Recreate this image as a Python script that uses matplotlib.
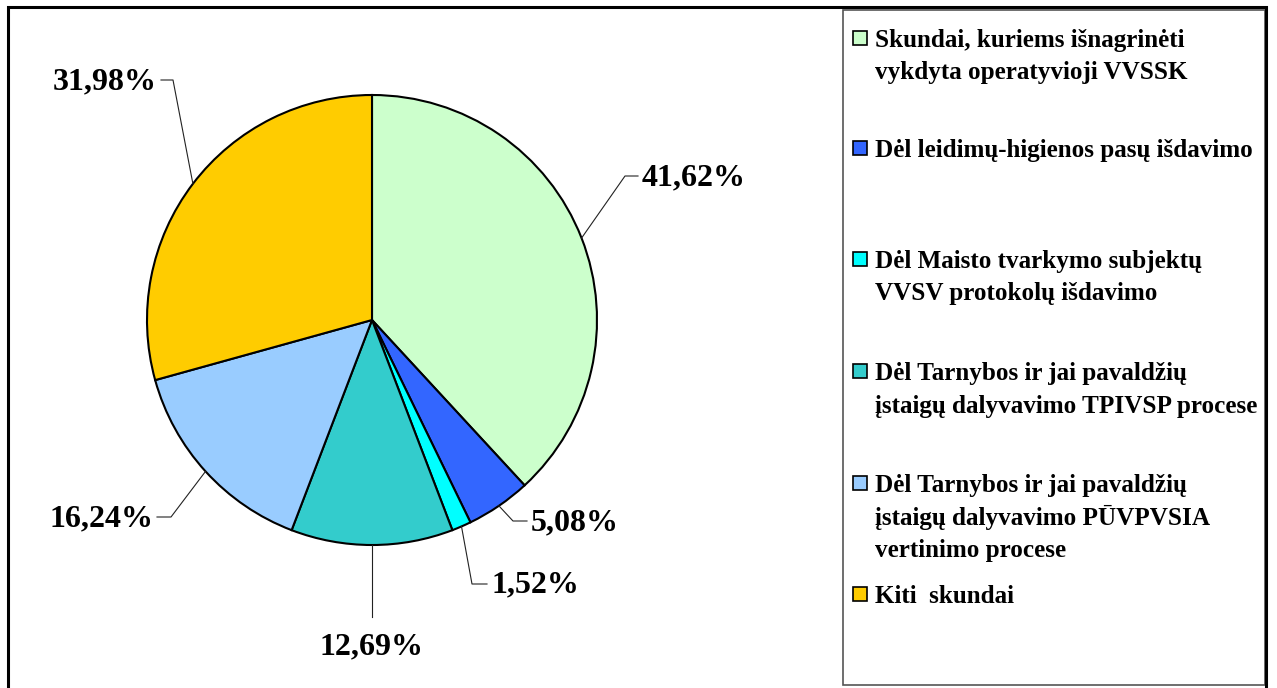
import numpy as np
import matplotlib
matplotlib.use("Agg")
import matplotlib.pyplot as plt
from matplotlib.patches import Rectangle
from matplotlib.lines import Line2D

# ---- data ----
values = [41.62, 5.08, 1.52, 12.69, 16.24, 31.98]
value_labels = ["41,62%", "5,08%", "1,52%", "12,69%", "16,24%", "31,98%"]
categories = [
    "Skundai, kuriems išnagrinėti\nvykdyta operatyvioji VVSSK",
    "Dėl leidimų-higienos pasų išdavimo",
    "Dėl Maisto tvarkymo subjektų\nVVSV protokolų išdavimo",
    "Dėl Tarnybos ir jai pavaldžių\nįstaigų dalyvavimo TPIVSP procese",
    "Dėl Tarnybos ir jai pavaldžių\nįstaigų dalyvavimo PŪVPVSIA\nvertinimo procese",
    "Kiti  skundai",
]
colors = ["#CCFFCC", "#3366FF", "#00FFFF", "#33CCCC", "#99CCFF", "#FFCC00"]

FONT = "Liberation Serif"
W, H = 1277, 688

fig = plt.figure(figsize=(W / 100, H / 100), dpi=100)
fig.patch.set_facecolor("white")

def fx(x):
    return x / W

def fy(y):
    return 1 - y / H

# pie axes: center (372, 320), radius 225 px
cx, cy, R = 372, 320, 225
ax = fig.add_axes([fx(cx - R), fy(cy + R), 2 * R / W, 2 * R / H])
wedges, _ = ax.pie(values, colors=colors, startangle=90, counterclock=False,
                   wedgeprops=dict(edgecolor="black", linewidth=1.5))
ax.set_xlim(-1, 1)
ax.set_ylim(-1, 1)
ax.set_aspect("auto")
ax.axis("off")

# label layout: (elbow point, line end point, text x, text y, ha)
layout = [
    ((625, 176), (638, 176), 642, 178, "left"),
    ((513, 521), (527, 521), 531, 523, "left"),
    ((472, 584), (487, 584), 491, 585, "left"),
    ((372, 617), (372, 617), 372, 647, "center"),
    ((171, 517), (157, 517), 153, 519, "right"),
    ((173, 80), (161, 80), 157, 82, "right"),
]

fig.canvas.draw()
inv = fig.transFigure.inverted()
for w, lab, (elb, end, tx, ty, ha) in zip(wedges, value_labels, layout):
    mid = np.deg2rad((w.theta1 + w.theta2) / 2)
    ax_pt = ax.transData.transform((np.cos(mid), np.sin(mid)))
    a = inv.transform(ax_pt)
    xs = [a[0], fx(elb[0]), fx(end[0])]
    ys = [a[1], fy(elb[1]), fy(end[1])]
    fig.add_artist(Line2D(xs, ys, transform=fig.transFigure, color="#222222", lw=0.8))
    fig.text(fx(tx), fy(ty), lab, ha=ha, va="center", fontsize=23,
             fontweight="bold", family=FONT)

# legend box
fig.add_artist(Rectangle((fx(843), fy(685)), (1265 - 843) / W, (685 - 10) / H,
                         transform=fig.transFigure, facecolor="none",
                         edgecolor="#555555", lw=1.2))

baselines = [47, 157, 268, 380, 492, 603]
line_step = 32.5
for cat, col, b in zip(categories, colors, baselines):
    sq = 14
    fig.add_artist(Rectangle((fx(853), fy(b - 9 + sq / 2)), sq / W, sq / H,
                             transform=fig.transFigure, facecolor=col,
                             edgecolor="black", lw=1.2))
    for i, line in enumerate(cat.split("\n")):
        fig.text(fx(875), fy(b + i * line_step), line, ha="left", va="baseline",
                 fontsize=18.1, fontweight="bold", family=FONT)

# outer border
fig.add_artist(Rectangle((fx(8), fy(692)), (1266 - 8) / W, (692 - 7) / H,
                         transform=fig.transFigure, facecolor="none",
                         edgecolor="black", lw=2.2, clip_on=False))

fig.savefig("out.png", dpi=100, facecolor="white")
